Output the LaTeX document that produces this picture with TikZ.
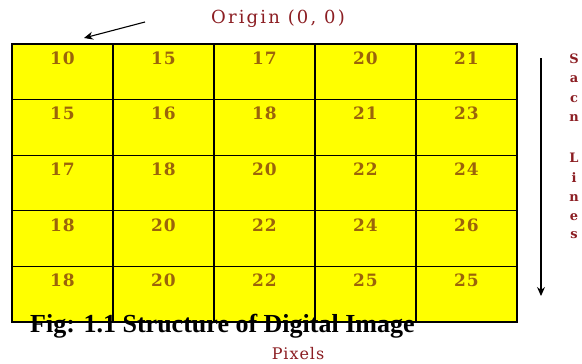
\documentclass[tikz,border=0pt]{standalone}
\usepackage{fontspec}
\setmainfont{Liberation Serif}
\newfontfamily\wideserif{DejaVu Serif}
\usetikzlibrary{arrows.meta}
\definecolor{numcol}{RGB}{155,100,10}
\definecolor{maroon}{RGB}{140,30,35}
\definecolor{cellyellow}{RGB}{255,255,0}
\tikzset{
  cell/.style={draw=black, line width=1.2pt, fill=cellyellow, minimum width=101pt, minimum height=55.6pt, inner sep=0pt, outer sep=0pt},
  num/.style={text=numcol, font=\wideserif\fontsize{17}{17}\selectfont\bfseries\addfontfeature{LetterSpace=6}, inner sep=0pt},
  redtxt/.style={text=maroon, font=\wideserif\fontsize{18}{18}\selectfont\addfontfeature{LetterSpace=12}, inner sep=0pt},
  vlet/.style={text=maroon, font=\wideserif\fontsize{13}{13}\selectfont\bfseries, inner sep=0pt},
  arr/.style={line width=1.1pt, -{Stealth[length=9pt,width=8pt]}}
}
\begin{document}
\begin{tikzpicture}[x=1pt,y=-1pt]
\useasboundingbox (0,0) rectangle (582,364);
\fill[white] (0,0) rectangle (582,364);
\foreach \row/\vals in {1/{10,15,17,20,21},2/{15,16,18,21,23},3/{17,18,20,22,24},4/{18,20,22,24,26},5/{18,20,22,25,25}}{
  \foreach \v [count=\col] in \vals {
    \node[cell] (c\row-\col) at ({12+101*(\col-0.5)},{44+55.6*(\row-0.5)}) {};
    \node[num, anchor=north] (n\row-\col) at ([yshift=-7.5pt]c\row-\col.north) {\v};
  }
}
\node[redtxt] (origin) at (278,19) {Origin (0, 0)};
\coordinate (ostart) at (145,22);
\coordinate (oend) at (84,38);
\draw[arr] (ostart) -- (oend);
\coordinate (sstart) at (541,58);
\coordinate (send) at (541,296);
\draw[arr] (sstart) -- (send);
\foreach \l/\yy [count=\i] in {S/59,a/79,c/99,n/118,L/158,i/178,n/198,e/217,s/235}{
  \node[vlet] (v\i) at (574,\yy) {\l};
}
\node[font=\fontsize{26}{26}\selectfont\bfseries, anchor=base west, inner sep=0pt] (cap) at (30,332) {Fig: 1.1 Structure of Digital Image};
\node[redtxt, font=\wideserif\fontsize{16}{16}\selectfont\addfontfeature{LetterSpace=6}] (pixels) at (298,354) {Pixels};
\end{tikzpicture}
\end{document}
